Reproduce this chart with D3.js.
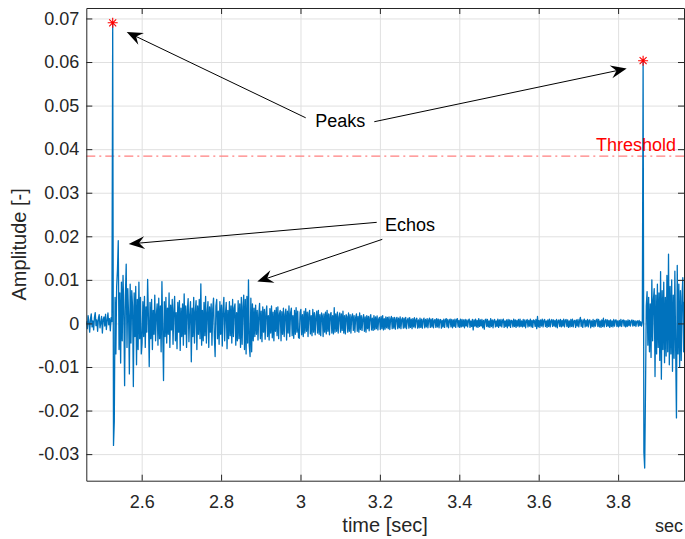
<!DOCTYPE html>
<html>
<head>
<meta charset="utf-8">
<script src="https://cdn.jsdelivr.net/npm/d3@7"></script>
<style>
  html, body { margin: 0; padding: 0; background: #fff; }
  svg { display: block; font-family: "Liberation Sans", Arial, Helvetica, sans-serif; }
  .axis path, .axis line { stroke: #262626; }
  .axis text { fill: #262626; font-size: 18px; font-family: "Liberation Sans", Arial, sans-serif; }
  .grid line { stroke: #e0e0e0; }
  .grid path { display: none; }
</style>
</head>
<body>
<div class="chart"></div>
<script>
const width = 685;
const height = 539;
const margin = {top: 8, right: 1, bottom: 58.3, left: 86.3};
const innerWidth = width - margin.left - margin.right;
const innerHeight = height - margin.top - margin.bottom;

// axis limits and ticks
const xLimits = [2.4605, 3.966];
const yLimits = [-0.0361, 0.0724];
const xTicks = [2.6, 2.8, 3, 3.2, 3.4, 3.6, 3.8];
const xTickLabels = ['2.6', '2.8', '3', '3.2', '3.4', '3.6', '3.8'];
const yTicks = [-0.03, -0.02, -0.01, 0, 0.01, 0.02, 0.03, 0.04, 0.05, 0.06, 0.07];
const yTickLabels = ['-0.03', '-0.02', '-0.01', '0', '0.01', '0.02', '0.03', '0.04', '0.05', '0.06', '0.07'];
const xAxisLabel = 'time [sec]';
const yAxisLabel = 'Amplitude [-]';

// sampled signal: first sample time, sample period, amplitudes in units of 1e-4
const sampleStart = 2.461;
const samplePeriod = 0.002;
const ampUnit = 1e-4;
const amplitude = [
  5,-12,18,3,-20,10,22,-8,6,-15,14,25,-5,8,-18,12,20,-10,2,16,-22,9,15,-6,21,-14,7,24,-3,11,-17,13,4,
  690,-280,-225,
  60,-70,85,123,190,-60,70,-91,95,-40,110,30,-143,65,136,-55,80,20,-116,90,-45,75,40,-145,70,-30,85,-95,55,-60,95,-35,60,-70,
  -45,50,-30,62,-55,38,-20,101,15,-99,
  48,-35,55,-60,30,-25,65,-40,20,45,
  -50,58,-35,40,-65,96,-20,-131,50,-30,
  60,-45,35,-25,70,-55,42,-15,55,-48,
  30,62,-40,25,-58,48,-20,52,-62,35,
  -30,45,-50,68,-25,40,-55,30,57,-42,
  20,50,-88,35,-30,60,-45,28,52,-60,
  40,-25,55,-35,91,-50,30,-40,48,-28,
  62,-45,25,50,-55,38,-20,45,-50,33,
  58,-30,-76,40,55,-35,28,-48,50,-25,
  42,-52,35,60,-40,22,48,-58,30,-35,
  50,-28,40,-45,55,-30,35,45,-50,25,
  -40,52,-35,45,-55,60,-48,38,65,-60,
  55,-70,62,-45,100,-50,-76,58,-65,45,
  -40,35,-30,42,-25,30,-38,20,46,-35,
  28,-42,38,-20,32,-36,25,40,-30,18,
  -38,34,-22,40,-33,26,-40,30,-18,36,
  -28,38,-35,22,30,-40,27,-25,35,-30,
  20,33,-38,28,-22,40,-30,24,35,-28,
  18,-34,30,-25,36,-20,28,-32,-34,25,
  32,-26,20,-30,28,-22,34,-18,26,-30,
  22,30,-24,18,-28,32,-20,25,-26,16,
  28,-22,30,-25,20,-28,24,18,-30,22,
  -20,26,-24,30,-18,22,-26,20,25,-22,
  18,-24,36,-20,22,-18,26,-22,15,24,
  -20,22,-16,28,-22,18,-24,20,16,-20,
  24,-18,20,-22,15,22,-16,18,-20,14,
  22,-18,16,-20,24,-14,18,-16,12,20,
  -18,15,-20,18,-12,16,-17,14,20,-15,
  12,-16,18,-14,15,-12,17,-15,10,14,
  -14,16,-12,18,-15,11,-13,15,-10,14,
  -12,15,-14,10,16,-12,13,-11,14,-13,
  10,14,-12,12,-10,15,-12,9,13,-11,
  12,-10,14,-12,8,12,-11,13,-9,10,
  -12,11,-8,13,-10,9,12,-11,8,-10,
  12,-9,10,-11,8,12,-10,9,-8,11,
  -10,8,12,-9,10,-8,11,-10,7,9,
  -9,11,-8,10,-10,8,9,-11,7,-8,
  10,-9,8,11,-8,9,-10,7,10,-8,
  9,-10,8,-7,10,-9,8,11,-8,7,
  -9,10,-8,9,-7,8,-10,9,-6,8,
  -8,7,10,-9,6,-7,9,-15,8,-6,
  10,-8,7,-9,11,-7,8,-6,9,-10,
  7,-13,8,10,-7,9,-8,6,-9,11,
  -7,8,-10,7,9,-8,6,-7,10,-9,
  8,-6,9,-8,7,10,-9,6,-7,8,
  -10,9,-6,8,-9,7,6,-8,10,-7,
  8,-9,7,-6,9,-8,10,-7,6,-8,
  9,-7,8,-10,6,9,-8,7,-6,10,
  -8,7,-9,8,6,-7,9,-12,16,-8,
  7,-9,8,-6,10,-8,7,9,-7,6,
  -9,8,-7,10,-8,6,9,-7,8,-6,
  7,-8,9,-10,6,8,-7,9,-8,7,
  -6,10,-8,7,9,-7,8,-9,6,-8,
  9,-7,10,-8,6,7,-9,8,-6,9,
  -8,7,14,-7,8,-9,6,10,-8,7,
  -6,9,-8,7,8,-10,6,-7,9,-8,
  7,-6,8,10,-7,9,-8,6,-9,8,
  -7,12,-8,6,9,-7,8,-6,7,-9,
  8,-7,6,-8,9,-6,7,8,-7,6,
  -8,7,-6,9,-7,6,8,-6,7,-8,
  6,-7,8,-5,7,-6,5,8,-6,7,
  -5,6,-7,5,6,-6,7,-5,4,-6,
  3,
  603,-296,-332,-157,
  40,73,-50,60,-65,45,-78,100,-40,55,
  80,-122,65,-70,90,-55,70,-85,119,-128,
  75,-60,95,-90,60,-75,110,-65,159,-95,
  85,-70,100,-110,65,-80,120,-60,-217,133,
  -70,90,-99,75,-85,60,105,-65,50
];

// detected peaks and threshold
const peakTimes = [2.527, 3.863];
const peakValues = [0.069, 0.0603];
const threshold = 0.0384;
const thresholdLabel = 'Threshold';
const thresholdLabelAt = [3.946, 0.0396];

// text arrows (data coordinates)
const noteLabels = ['Peaks', 'Echos'];
const noteLabelAt = [[3.10, 0.0451], [3.276, 0.0213]];
const arrowFrom = [[3.0131, 0.0472], [3.1859, 0.0463], [3.192, 0.0232], [3.2061, 0.0193]];
const arrowTo = [[2.5623, 0.0669], [3.8217, 0.0585], [2.5673, 0.01823], [2.8912, 0.0096]];

const signal = amplitude.map((a, i) => ({t: sampleStart + i * samplePeriod, v: a * ampUnit}));

const svg = d3.select('.chart').append('svg')
  .attr('width', width)
  .attr('height', height);

const g = svg.append('g').attr('transform', `translate(${margin.left},${margin.top})`);

const xScale = d3.scaleLinear().domain(xLimits).range([0, innerWidth]);
const yScale = d3.scaleLinear().domain(yLimits).range([innerHeight, 0]);

svg.append('defs').append('clipPath').attr('id', 'plot-clip')
  .append('rect').attr('width', innerWidth).attr('height', innerHeight);

const dropText = sel => sel.selectAll('text').remove(); // empty tick texts are not needed

// grid
g.append('g').attr('class', 'grid')
  .attr('transform', `translate(0,${innerHeight})`)
  .call(d3.axisBottom(xScale).tickValues(xTicks).tickSize(-innerHeight))
  .call(dropText);
g.append('g').attr('class', 'grid')
  .call(d3.axisLeft(yScale).tickValues(yTicks).tickSize(-innerWidth))
  .call(dropText);

// threshold line
g.append('line')
  .attr('x1', 0).attr('x2', innerWidth)
  .attr('y1', yScale(threshold)).attr('y2', yScale(threshold))
  .attr('stroke', '#ff8080').attr('stroke-width', 1.2)
  .attr('stroke-dasharray', '9,4,2,4');

// signal
const line = d3.line().x(d => xScale(d.t)).y(d => yScale(d.v));
g.append('path')
  .datum(signal)
  .attr('clip-path', 'url(#plot-clip)')
  .attr('fill', 'none')
  .attr('stroke', '#0072BD')
  .attr('stroke-width', 1.3)
  .attr('stroke-linejoin', 'round')
  .attr('d', line);

// peak markers
const star = 5;
g.selectAll('.peak').data(peakTimes).enter().append('path')
  .attr('class', 'peak')
  .attr('transform', (d, i) => `translate(${xScale(d)},${yScale(peakValues[i])})`)
  .attr('d', `M${-star},0H${star}M0,${-star}V${star}M${-star * 0.7},${-star * 0.7}L${star * 0.7},${star * 0.7}M${-star * 0.7},${star * 0.7}L${star * 0.7},${-star * 0.7}`)
  .attr('stroke', '#ff0000').attr('stroke-width', 1.1).attr('fill', 'none');

// threshold label
g.append('text')
  .attr('x', xScale(thresholdLabelAt[0]))
  .attr('y', yScale(thresholdLabelAt[1]))
  .attr('text-anchor', 'end')
  .attr('fill', '#ff0000')
  .style('font-size', '18px')
  .text(thresholdLabel);

// axes (box with inward ticks)
const fmtX = d => xTickLabels[xTicks.indexOf(d)];
const fmtY = d => yTickLabels[yTicks.indexOf(d)];
g.append('g').attr('class', 'axis')
  .attr('transform', `translate(0,${innerHeight})`)
  .call(d3.axisBottom(xScale).tickValues(xTicks).tickFormat(fmtX).tickSizeInner(-6).tickSizeOuter(0).tickPadding(15));
g.append('g').attr('class', 'axis')
  .call(d3.axisLeft(yScale).tickValues(yTicks).tickFormat(fmtY).tickSizeInner(-6).tickSizeOuter(0).tickPadding(7));
g.append('g').attr('class', 'axis')
  .call(d3.axisTop(xScale).tickValues(xTicks).tickSizeInner(-6).tickSizeOuter(0))
  .call(dropText);
g.append('g').attr('class', 'axis')
  .attr('transform', `translate(${innerWidth},0)`)
  .call(d3.axisRight(yScale).tickValues(yTicks).tickSizeInner(-6).tickSizeOuter(0))
  .call(dropText);

// axis labels
g.append('text')
  .attr('x', innerWidth / 2).attr('y', innerHeight + 51.5)
  .attr('text-anchor', 'middle').attr('fill', '#262626')
  .style('font-size', '20px')
  .text(xAxisLabel);
g.append('text')
  .attr('x', innerWidth - 1).attr('y', innerHeight + 51.5)
  .attr('text-anchor', 'end').attr('fill', '#262626')
  .style('font-size', '18px')
  .text('sec');
g.append('text')
  .attr('transform', `translate(${26 - margin.left},${innerHeight / 2}) rotate(-90)`)
  .attr('text-anchor', 'middle').attr('fill', '#262626')
  .style('font-size', '20px')
  .text(yAxisLabel);

// annotation arrows
const headLen = 16, headWid = 13;
arrowFrom.forEach((p, i) => {
  const x1 = xScale(p[0]), y1 = yScale(p[1]);
  const x2 = xScale(arrowTo[i][0]), y2 = yScale(arrowTo[i][1]);
  const a = Math.atan2(y2 - y1, x2 - x1);
  const ux = Math.cos(a), uy = Math.sin(a);
  g.append('line')
    .attr('x1', x1).attr('y1', y1)
    .attr('x2', x2 - ux * headLen * 0.6).attr('y2', y2 - uy * headLen * 0.6)
    .attr('stroke', '#000').attr('stroke-width', 1);
  const bx = x2 - ux * headLen, by = y2 - uy * headLen;
  const nx = -uy * headWid / 2, ny = ux * headWid / 2;
  const notch = [x2 - ux * headLen * 0.65, y2 - uy * headLen * 0.65];
  g.append('path')
    .attr('d', `M${x2},${y2}L${bx + nx},${by + ny}L${notch[0]},${notch[1]}L${bx - nx},${by - ny}Z`)
    .attr('fill', '#000');
});

g.selectAll('.note').data(noteLabels).enter().append('text')
  .attr('class', 'note')
  .attr('x', (d, i) => xScale(noteLabelAt[i][0]))
  .attr('y', (d, i) => yScale(noteLabelAt[i][1]))
  .attr('text-anchor', 'middle')
  .attr('fill', '#000')
  .style('font-size', '18px')
  .text(d => d);
</script>
</body>
</html>
